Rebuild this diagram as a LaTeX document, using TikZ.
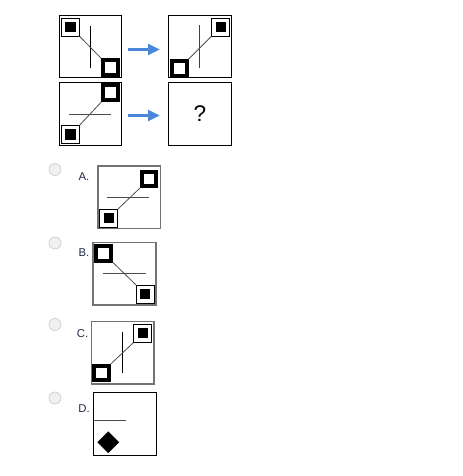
\documentclass[tikz,border=0pt]{standalone}
\usepackage{fontspec}
\setmainfont{Liberation Sans}
\usetikzlibrary{arrows.meta,shapes.geometric}

\definecolor{arrowblue}{HTML}{4A86D9}
\definecolor{radiogray}{HTML}{C8C8C8}
\definecolor{labelblue}{HTML}{1F2A44}

\tikzset{
  panel/.style={draw, line width=0.75pt, minimum size=47pt, inner sep=0pt},
  choice/.style={draw=black!55, line width=1.1pt, minimum size=47pt, inner sep=0pt},
  framed/.style={draw, fill=white, line width=0.6pt, minimum size=13.5pt, inner sep=0pt,
    path picture={\fill[black] (path picture bounding box.center) +(-3.9pt,-3.9pt) rectangle +(3.9pt,3.9pt);}},
  thick square/.style={draw, fill=white, line width=3pt, minimum size=11pt, inner sep=0pt},
  link/.style={draw=black!70, line width=0.6pt},
  bar/.style={line width=0.75pt},
  flow/.style={draw=arrowblue, line width=2.2pt, -{Triangle[length=9pt,width=8pt]}},
  radio/.style={circle, draw=radiogray, fill=black!6, line width=0.5pt, minimum size=9pt, inner sep=0pt},
  optlabel/.style={font=\fontsize{8.5}{9}\selectfont, text=labelblue, inner sep=0pt}
}

\begin{document}
\begin{tikzpicture}[x=0.75pt, y=-0.75pt]
  \useasboundingbox (0,0) rectangle (463,476);

  % Row 1
  \node[panel] (p1) at (90.5,46.5) {};
  \node[panel] (p2) at (200,46.5) {};
  \draw[bar] (90.7,26) -- (90.7,68);
  \node[framed] (p1a) at (70.3,27) {};
  \node[thick square] (p1b) at (110.3,67.5) {};
  \draw[link] (p1a.south east) -- (p1b.north west);
  \draw[bar, black!75] (199,25) -- (199,68);
  \node[framed] (p2a) at (220.8,27) {};
  \node[thick square] (p2b) at (179.3,68.5) {};
  \draw[link] (p2a.south west) -- (p2b.north east);
  \draw[flow] (128,49.5) -- (160,49.5);

  % Row 2
  \node[panel] (p3) at (90.5,114) {};
  \node[panel] (p4) at (200,114) {};
  \draw[bar, black!70] (69,114) -- (110.7,114);
  \node[thick square] (p3a) at (110.8,92.5) {};
  \node[framed] (p3b) at (70.5,134.3) {};
  \draw[link] (p3a.south west) -- (p3b.north east);
  \node[font=\fontsize{17}{17}\selectfont] (ask) at (200,114) {?};
  \draw[flow] (128,115.5) -- (160,115.5);

  % Option A
  \node[radio] (ra) at (55,169.5) {};
  \node[optlabel] (la) at (84,176.5) {A.};
  \node[choice] (oa) at (129.3,197.3) {};
  \draw[bar, black!70] (106.7,197.7) -- (149.3,197.7);
  \node[thick square] (oa1) at (149,179) {};
  \node[framed] (oa2) at (108.8,218.2) {};
  \draw[link] (oa1.south west) -- (oa2.north east);

  % Option B
  \node[radio] (rb) at (55,243) {};
  \node[optlabel] (lb) at (84,253) {B.};
  \node[choice] (ob) at (124.5,273.7) {};
  \draw[bar, black!70] (103.3,273.3) -- (146,273.3);
  \node[thick square] (ob1) at (103.8,253.3) {};
  \node[framed] (ob2) at (145.2,294.2) {};
  \draw[link] (ob1.south east) -- (ob2.north west);

  % Option C
  \node[radio] (rc) at (55,324.5) {};
  \node[optlabel] (lc) at (82.5,333.5) {C.};
  \node[choice] (oc) at (122.8,352.8) {};
  \draw[bar] (122,331.7) -- (122,373.3);
  \node[framed] (oc1) at (142.8,333.2) {};
  \node[thick square] (oc2) at (101.8,373) {};
  \draw[link] (oc1.south west) -- (oc2.north east);

  % Option D
  \node[radio] (rd) at (55,398) {};
  \node[optlabel] (ld) at (84,408.5) {D.};
  \node[panel] (od) at (125,423.8) {};
  \draw[bar, black!70] (94,420.7) -- (126,420.7);
  \node[diamond, fill, minimum size=16.5pt, inner sep=0pt] (od1) at (108.3,442.3) {};
\end{tikzpicture}
\end{document}
